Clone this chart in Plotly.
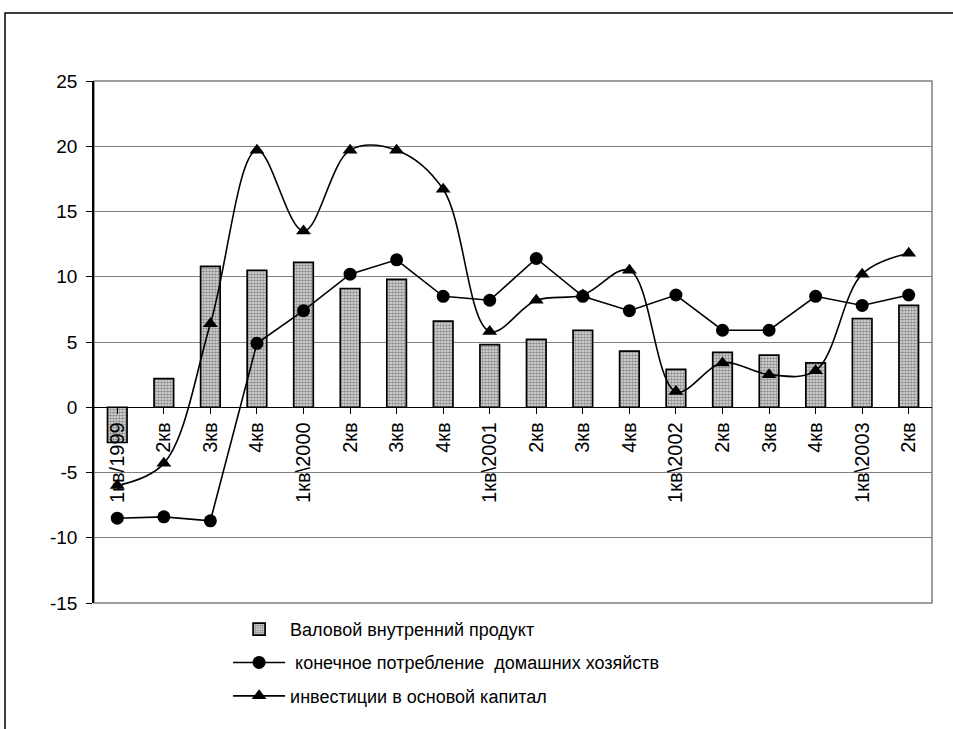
import plotly.graph_objects as go

# Quarter labels along the category axis
quarters = ["1кв/1999", "2кв", "3кв", "4кв",
            "1кв\\2000", "2кв", "3кв", "4кв",
            "1кв\\2001", "2кв", "3кв", "4кв",
            "1кв\\2002", "2кв", "3кв", "4кв",
            "1кв\\2003", "2кв"]

# Growth rates, % to the same quarter of the previous year
gdp = [-2.7, 2.2, 10.8, 10.5, 11.1, 9.1, 9.8, 6.6, 4.8, 5.2, 5.9, 4.3,
       2.9, 4.2, 4.0, 3.4, 6.8, 7.8]
consumption = [-8.5, -8.4, -8.7, 4.9, 7.4, 10.2, 11.3, 8.5, 8.2, 11.4, 8.5, 7.4,
               8.6, 5.9, 5.9, 8.5, 7.8, 8.6]
investment = [-6.0, -4.3, 6.4, 19.7, 13.5, 19.7, 19.7, 16.7, 5.8, 8.2, 8.6, 10.5,
              1.2, 3.4, 2.5, 2.8, 10.2, 11.8]

y_ticks = [25, 20, 15, 10, 5, 0, -5, -10, -15]
y_tick_text = [str(v) for v in y_ticks]  # plain hyphen minus

name_gdp = "Валовой внутренний продукт"
name_cons = " конечное потребление  домашних хозяйств"
name_inv = "инвестиции в основой капитал"

x = list(range(len(quarters)))
FONT = "Liberation Sans, Arial, sans-serif"

fig = go.Figure()

fig.add_trace(go.Bar(
    x=x, y=gdp, name=name_gdp, width=0.42,
    marker=dict(
        color="#bdbdbd",
        line=dict(color="black", width=1.7),
        pattern=dict(shape=".", fgcolor="#3a3a3a", bgcolor="#e2e2e2",
                     size=3, solidity=0.6),
    ),
    legendrank=1, legendgroup="g1",
))

fig.add_trace(go.Scatter(
    x=x, y=investment, name=name_inv, mode="lines+markers",
    line=dict(color="black", width=1.6, shape="spline", smoothing=1.0),
    marker=dict(symbol="triangle-up", size=13, color="black"),
    legendrank=3, legendgroup="g3",
))

fig.add_trace(go.Scatter(
    x=x, y=consumption, name=name_cons, mode="lines+markers",
    line=dict(color="black", width=1.6),
    marker=dict(symbol="circle", size=13, color="black"),
    legendrank=2, legendgroup="g2",
))

# Plot-area frame (grey) and the outer chart frame (black)
fig.add_shape(type="rect", xref="paper", yref="paper", x0=0, x1=1, y0=0, y1=1,
              line=dict(color="#808080", width=1.5), layer="below")
fig.add_shape(type="rect", xref="paper", yref="paper",
              x0=-0.1062, x1=1.2, y0=-0.4, y1=1.1303,
              line=dict(color="black", width=1.5))

fig.update_layout(
    width=953, height=729,
    margin=dict(l=94, r=21, t=81, b=126),
    paper_bgcolor="white", plot_bgcolor="white",
    font=dict(family=FONT, size=18, color="black"),
    showlegend=True,
    legend=dict(
        x=0.16, y=-0.015, xanchor="left", yanchor="top",
        font=dict(family=FONT, size=18, color="black"),
        bgcolor="rgba(0,0,0,0)", itemwidth=52, tracegroupgap=7,
    ),
)

fig.update_xaxes(
    range=[-0.5, len(quarters) - 0.5],
    tickmode="array", tickvals=x, ticktext=quarters,
    tickangle=-90, tickson="boundaries",
    ticks="outside", ticklen=6, tickcolor="black", tickwidth=1,
    showline=True, linecolor="black", linewidth=1.2,
    showgrid=False, zeroline=False,
    anchor="free", position=15 / 40,
    tickfont=dict(family=FONT, size=20, color="black"),
)

fig.update_yaxes(
    range=[-15, 25],
    tickmode="array", tickvals=y_ticks, ticktext=y_tick_text,
    ticks="outside", ticklen=6, tickcolor="black",
    showline=True, linecolor="black", linewidth=1.5,
    showgrid=True, gridcolor="#808080", gridwidth=1.2,
    zeroline=False,
    ticklabelstandoff=5,
    tickfont=dict(family=FONT, size=19, color="black"),
)

fig.write_html("out.html")
